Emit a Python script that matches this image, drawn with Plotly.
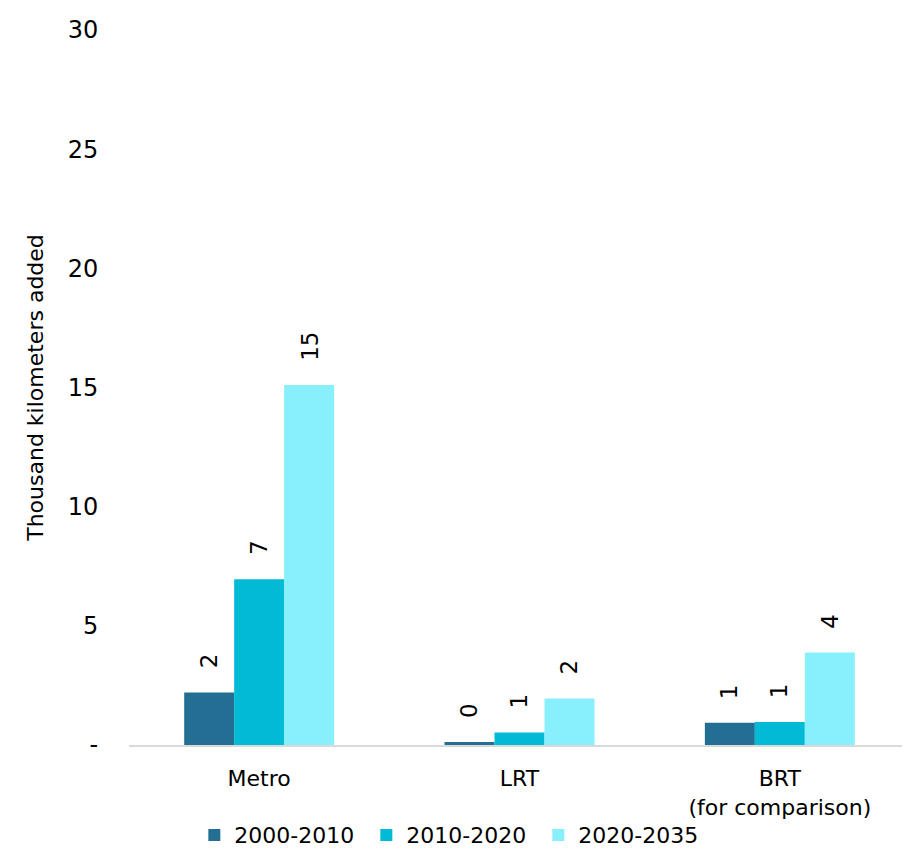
import plotly.graph_objects as go

categories = ["Metro", "LRT", "BRT<br>(for comparison)"]
series_names = ["2000-2010", "2010-2020", "2020-2035"]
values_2000_2010 = [2.2, 0.13, 0.93]
values_2010_2020 = [6.95, 0.52, 0.97]
values_2020_2035 = [15.1, 1.95, 3.88]
series_values = [values_2000_2010, values_2010_2020, values_2020_2035]
colors = ["#236F94", "#00BAD6", "#88EFFC"]
y_tickvals = [0, 5, 10, 15, 20, 25, 30]
y_ticktext = ["-", "5", "10", "15", "20", "25", "30"]

FONT = "DejaVu Sans, sans-serif"

fig = go.Figure()
for name, vals, col in zip(series_names, series_values, colors):
    fig.add_trace(go.Bar(x=categories, y=vals, name=name, marker=dict(color=col, line=dict(width=0))))

bar_px = 50
for i, vals in enumerate(series_values):
    for cat, v in zip(categories, vals):
        fig.add_annotation(
            x=cat, y=v, xref="x", yref="y",
            text=str(int(v + 0.5)), showarrow=False, textangle=-90,
            xanchor="center", yanchor="bottom",
            xshift=(i - 1) * bar_px, yshift=22,
            font=dict(family=FONT, size=23, color="#000000"),
        )

fig.update_layout(
    width=902, height=843,
    margin=dict(l=121, r=0, t=22, b=106, autoexpand=False),
    plot_bgcolor="white", paper_bgcolor="white",
    barmode="group", bargap=0.424, bargroupgap=0,
    font=dict(family=FONT, size=22, color="#000000"),
    showlegend=True,
    legend=dict(orientation="h", x=0.414, xanchor="center", y=-0.126, yanchor="middle",
                font=dict(size=22), tracegroupgap=0, bgcolor="rgba(0,0,0,0)",
                entrywidth=127, entrywidthmode="pixels"),
)
fig.update_xaxes(
    automargin=False,
    showline=True, linecolor="#D9D9D9", linewidth=2, showgrid=False,
    ticks="outside", ticklen=13, tickcolor="rgba(0,0,0,0)",
    tickfont=dict(size=22),
)
fig.update_yaxes(
    automargin=False,
    range=[0, 30], tickvals=y_tickvals, ticktext=y_ticktext,
    showgrid=False, zeroline=False, showline=False,
    ticks="outside", ticklen=25, tickcolor="rgba(0,0,0,0)",
    tickfont=dict(size=24),
    title=dict(text="Thousand kilometers added", font=dict(size=22), standoff=17),
)

fig.write_html("out.html")
